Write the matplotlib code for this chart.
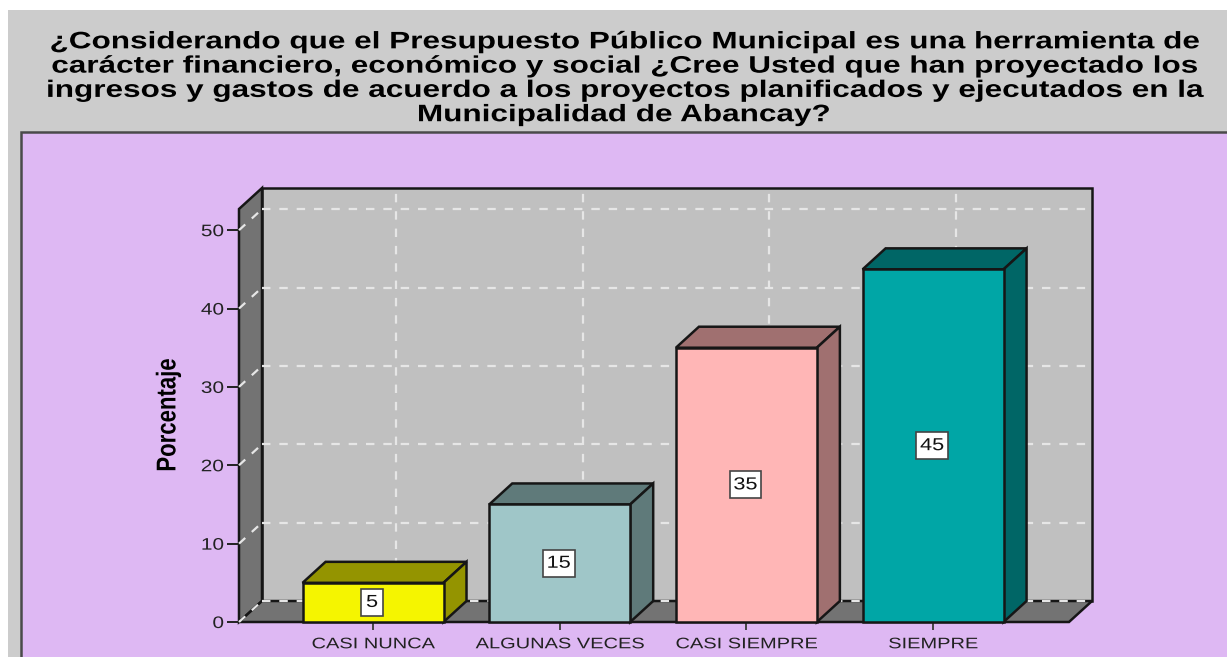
#!/usr/bin/env python3

import matplotlib
matplotlib.use("Agg")
import matplotlib.pyplot as plt
from matplotlib.patches import Polygon, Rectangle
from matplotlib.patheffects import AbstractPathEffect
from matplotlib.transforms import Affine2D

categories = ["CASI NUNCA", "ALGUNAS VECES", "CASI SIEMPRE", "SIEMPRE"]
values = [5, 15, 35, 45]
front_colors = ["#f5f500", "#9fc6c8", "#ffb6b6", "#00a6a6"]
shade_colors = ["#949400", "#5f7a7a", "#a07070", "#006666"]
y_ticks = [0, 10, 20, 30, 40, 50]

title = ("¿Considerando que el Presupuesto Público Municipal es una herramienta de\n"
         "carácter financiero, económico y social ¿Cree Usted que han proyectado los\n"
         "ingresos y gastos de acuerdo a los proyectos planificados y ejecutados en la\n"
         "Municipalidad de Abancay?")

W, H = 1227, 657
EDGE = "#161616"

# pixel box of the front plane of the 3d chart
LEFT, RIGHT, BOTTOM, TOP = 239, 1069, 622, 209

XMIN, XMAX = -0.718, 3.728
YMAX = 52.7

# 3d depth in data units
DX = 23 / 186.7
DY = 21 / 7.84
BAR_W = 0.755


class Stretch(AbstractPathEffect):
    # the reference text is squashed/stretched, scale glyphs around the text anchor
    def __init__(self, text, sx=1.0, sy=1.0):
        super().__init__()
        self.text, self.sx, self.sy = text, sx, sy

    def draw_path(self, renderer, gc, tpath, affine, rgbFace=None):
        cx, cy = self.text.get_transform().transform(self.text.get_position())
        scale = Affine2D().translate(-cx, -cy).scale(self.sx, self.sy).translate(cx, cy)
        renderer.draw_path(gc, tpath, affine + scale, rgbFace)


def stretch(text, sx=1.0, sy=1.0):
    text.set_path_effects([Stretch(text, sx, sy)])


fig = plt.figure(figsize=(W / 100, H / 100), dpi=100, facecolor="white")


def px_rect(x0, y0, x1, y1, **kw):
    # rectangle on the figure, given in image pixels
    fig.add_artist(Rectangle((x0 / W, 1 - y1 / H), (x1 - x0) / W, (y1 - y0) / H,
                             transform=fig.transFigure, zorder=-1, **kw))


px_rect(8, 10, W, H, facecolor="#cccccc", edgecolor="none")
px_rect(20.5, 132, W + 5, H + 5, facecolor="#deb8f3", edgecolor="#4a4a4a", linewidth=1.8)

ax = fig.add_axes([LEFT / W, 1 - BOTTOM / H, (RIGHT - LEFT) / W, (BOTTOM - TOP) / H])
ax.set_xlim(XMIN, XMAX)
ax.set_ylim(0, YMAX)
ax.patch.set_visible(False)
for spine in ax.spines.values():
    spine.set_visible(False)


def poly(points, color, z, lw=1.8):
    ax.add_patch(Polygon(points, closed=True, facecolor=color, edgecolor=EDGE,
                         linewidth=lw, zorder=z, clip_on=False, joinstyle="miter"))


# walls and floor
poly([(XMIN + DX, DY), (XMAX + DX, DY), (XMAX + DX, YMAX + DY), (XMIN + DX, YMAX + DY)], "#c0c0c0", 1)
poly([(XMIN, 0), (XMIN + DX, DY), (XMIN + DX, YMAX + DY), (XMIN, YMAX)], "#737373", 1)
poly([(XMIN, 0), (XMIN + DX, DY), (XMAX + DX, DY), (XMAX, 0)], "#737373", 1)

# grid on the back wall and across the left wall
grid = dict(color="#e6e6e6", linewidth=1.6, dashes=(3.8, 4.0), zorder=2, clip_on=False)
for v in y_ticks[1:]:
    ax.plot([XMIN + DX, XMAX + DX], [v + DY, v + DY], **grid)
    ax.plot([XMIN, XMIN + DX], [v, v + DY], **grid)
for i in range(len(categories)):
    ax.plot([i + DX, i + DX], [DY, YMAX + DY], **grid)
ax.plot([XMIN + DX, XMAX + DX], [DY, DY], **grid)
ax.plot([XMIN, XMIN + DX], [0, DY], **grid)

# bars
for i, (val, front, shade) in enumerate(zip(values, front_colors, shade_colors)):
    x0, x1 = i - BAR_W / 2, i + BAR_W / 2
    poly([(x0, val), (x1, val), (x1 + DX, val + DY), (x0 + DX, val + DY)], shade, 3)
    poly([(x1, 0), (x1 + DX, DY), (x1 + DX, val + DY), (x1, val)], shade, 3)
    ax.bar(i, val, width=BAR_W, color=front, edgecolor=EDGE, linewidth=1.8, zorder=4, clip_on=False)
    label = ax.text(i - 0.005, val / 2, str(val), ha="center", va="center", fontsize=12.5,
                    family="Liberation Sans", color="#111111", zorder=5,
                    bbox=dict(boxstyle="square,pad=0.35", facecolor="white", edgecolor="#444444", linewidth=1.2))
    stretch(label, sx=1.25)

# axes
ax.set_yticks(y_ticks)
ax.set_xticks(range(len(categories)))
ax.set_xticklabels(categories)
ax.tick_params(axis="y", length=8.5, width=1.4, color="#222222", pad=2.3, labelsize=12, labelcolor="#222222")
ax.tick_params(axis="x", length=6, width=1.4, color="#444444", pad=5, labelsize=11, labelcolor="#222222")
for lab in ax.get_xticklabels():
    lab.set_family("Liberation Sans")
    stretch(lab, sx=1.31)
for lab in ax.get_yticklabels():
    lab.set_family("Liberation Sans")
    stretch(lab, sx=1.25)

ylab = fig.text(168 / W, 1 - 415 / H, "Porcentaje", rotation=90, ha="center", va="center", fontsize=14.5,
                fontweight="bold", family="Liberation Sans", color="black")
stretch(ylab, sx=1.35, sy=1.1)

head = fig.text(623 / W, 1 - 78 / H, title, ha="center", va="center", fontsize=16.5, fontweight="bold",
                family="Liberation Sans", color="black", linespacing=1.02)
stretch(head, sx=1.375, sy=1.04)

fig.savefig("out.png", dpi=100, facecolor=fig.get_facecolor())
